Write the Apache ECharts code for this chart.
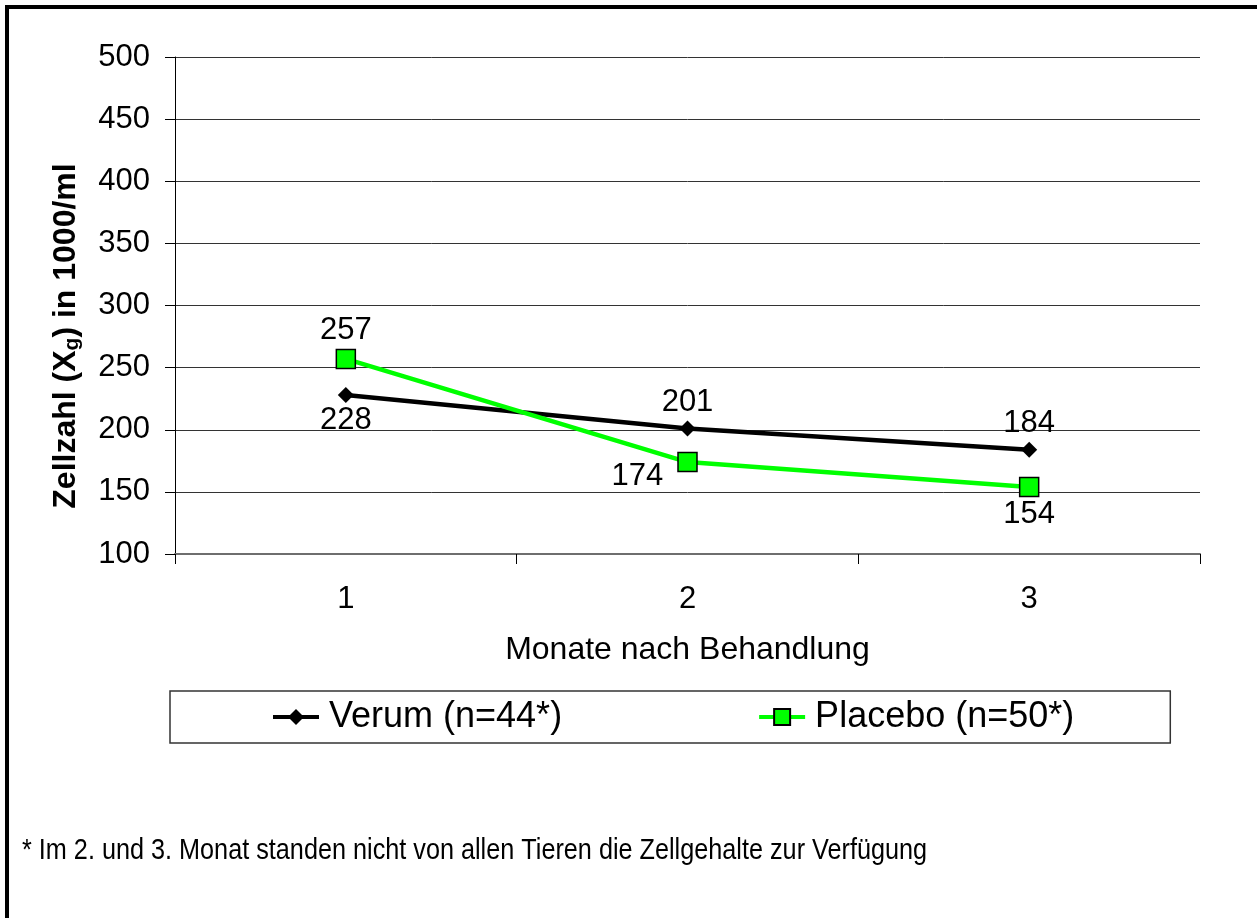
<!DOCTYPE html>
<html>
<head>
<meta charset="utf-8">
<script src="https://cdn.jsdelivr.net/npm/echarts@6/dist/echarts.min.js"></script>
<style>
  html, body { margin: 0; padding: 0; background: #fff; }
  #chart { width: 1257px; height: 918px; }
</style>
</head>
<body>
<div id="chart"></div>
<script>
// data
const categories = ['1', '2', '3']
const verumName = 'Verum (n=44*)'
const placeboName = 'Placebo (n=50*)'
const verumValues = [228, 201, 184]
const placeboValues = [257, 174, 154]
const yMin = 100
const yMax = 500
const yStep = 50

const FONT = 'Liberation Sans, Arial, sans-serif'

// where each value label sits, per point
const verumLabelPos = ['bottom', 'top', 'top']
const placeboLabelPos = ['top', 'left', 'bottom']

const buildData = (values, positions) => values.map((v, i) => ({
    value: v,
    label: positions[i] === 'left'
        ? { position: 'left', distance: 14, offset: [0, 14] }
        : { position: positions[i], distance: positions[i] === 'top' ? 3 : 2 }
}))

const chart = echarts.init(document.getElementById('chart'))

const option = {
    animation: false,
    backgroundColor: '#fff',
    textStyle: { fontFamily: FONT },
    grid: {
        left: 175,
        right: 57,
        top: 57,
        bottom: 364,
        containLabel: false,
        outerBoundsMode: 'none'
    },
    legend: {
        left: 170,
        top: 691,
        orient: 'horizontal',
        padding: [8, 96, 8, 101],
        borderColor: '#333',
        borderWidth: 1.5,
        itemWidth: 46,
        itemHeight: 20,
        itemGap: 195,
        lineStyle: { width: 4 },
        textStyle: { fontSize: 36, color: '#000', fontFamily: FONT, padding: [0, 0, 0, 5] },
        data: [verumName, placeboName]
    },
    xAxis: {
        type: 'category',
        data: categories,
        boundaryGap: true,
        name: 'Monate nach Behandlung',
        nameLocation: 'middle',
        nameGap: 80,
        nameTextStyle: { fontSize: 32, color: '#000', fontFamily: FONT },
        axisLine: { lineStyle: { color: '#6e6e6e', width: 2 } },
        axisTick: { show: true, length: 10, interval: 0, lineStyle: { color: '#000', width: 1 } },
        axisLabel: { fontSize: 31, color: '#000', margin: 30, fontFamily: FONT },
        splitLine: { show: false }
    },
    yAxis: {
        type: 'value',
        min: yMin,
        max: yMax,
        interval: yStep,
        axisLine: { show: true, lineStyle: { color: '#000', width: 1 } },
        axisTick: { show: true, length: 10, lineStyle: { color: '#000', width: 1 } },
        axisLabel: { fontSize: 31, color: '#000', margin: 25, fontFamily: FONT },
        splitLine: { show: true, lineStyle: { color: '#333', width: 1 } }
    },
    series: [
        {
            name: verumName,
            type: 'line',
            data: buildData(verumValues, verumLabelPos),
            symbol: 'diamond',
            symbolSize: 16,
            showAllSymbol: true,
            lineStyle: { color: '#000', width: 4.5 },
            itemStyle: { color: '#000' },
            label: { show: true, fontSize: 31, color: '#000', fontFamily: FONT }
        },
        {
            name: placeboName,
            type: 'line',
            data: buildData(placeboValues, placeboLabelPos),
            symbol: 'rect',
            symbolSize: 19,
            showAllSymbol: true,
            lineStyle: { color: '#00ff00', width: 4.5 },
            itemStyle: { color: '#00ff00', borderColor: '#000', borderWidth: 1.5 },
            label: { show: true, fontSize: 31, color: '#000', fontFamily: FONT }
        }
    ],
    graphic: {
        elements: [
            // frame, only top and left are visible in the picture
            { type: 'line', shape: { x1: 5, y1: 7, x2: 1257, y2: 7 }, style: { stroke: '#000', lineWidth: 4 } },
            { type: 'line', shape: { x1: 7, y1: 5, x2: 7, y2: 918 }, style: { stroke: '#000', lineWidth: 4 } },
            // y axis title with subscript
            {
                type: 'text',
                x: 66,
                y: 336,
                rotation: Math.PI / 2,
                style: {
                    text: '{b|Zellzahl (X}{s|g}{b|) in 1000/ml}',
                    align: 'center',
                    verticalAlign: 'middle',
                    fill: '#000',
                    rich: {
                        b: { fontSize: 32, fontWeight: 'bold', fontFamily: FONT, lineHeight: 34, verticalAlign: 'middle' },
                        s: { fontSize: 21, fontWeight: 'bold', fontFamily: FONT, lineHeight: 34, verticalAlign: 'bottom', padding: [12, 0, 0, 0] }
                    }
                }
            },
            // footnote
            {
                type: 'text',
                x: 22,
                y: 851,
                scaleX: 0.87,
                style: {
                    text: '* Im 2. und 3. Monat standen nicht von allen Tieren die Zellgehalte zur Verfügung',
                    fontSize: 29,
                    fontFamily: FONT,
                    fill: '#000',
                    verticalAlign: 'middle'
                }
            }
        ]
    }
}

chart.setOption(option)
</script>
</body>
</html>
